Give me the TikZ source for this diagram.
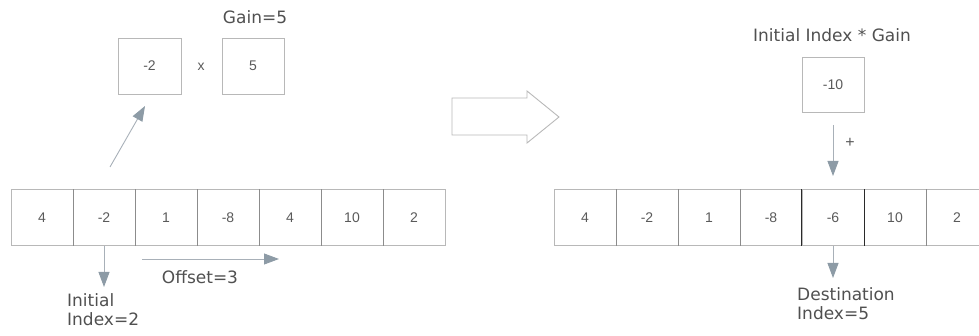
\documentclass[tikz,border=0pt]{standalone}
\usepackage{fontspec}
\setmainfont{Liberation Sans}
\newfontfamily\labelfont{DejaVu Sans}
\usetikzlibrary{arrows.meta}
\definecolor{boxline}{HTML}{B8B8B8}
\definecolor{divline}{HTML}{8C8C8C}
\definecolor{darkline}{HTML}{2A2A2A}
\definecolor{numtext}{HTML}{5A5A5A}
\definecolor{labtext}{HTML}{505050}
\definecolor{arrline}{HTML}{A8B0B8}
\definecolor{arrhead}{HTML}{8D9BA6}
\tikzset{
  cell/.style={draw=boxline, line width=0.9pt, minimum width=62pt, minimum height=56pt, inner sep=0pt, text=numtext, font=\fontsize{14}{16}\selectfont},
  numlabel/.style={text=numtext, font=\fontsize{14}{16}\selectfont, inner sep=0pt},
  biglabel/.style={text=labtext, font=\labelfont\fontsize{17}{20}\selectfont, inner sep=0pt},
  flow/.style={draw=arrline, line width=0.9pt, -{Triangle[length=15pt,width=11pt,fill=arrhead,color=arrhead]}},
  divider/.style={draw=divline, line width=0.9pt},
  mark6/.style={draw=darkline, line width=1pt}
}
\begin{document}
\begin{tikzpicture}[x=1pt,y=-1pt]
\useasboundingbox (0,0) rectangle (979,336);
% left array
\foreach \v [count=\i] in {4,-2,1,-8,4,10,2}{
  \node[cell] (L\i) at ({42+62*(\i-1)},217.5) {\v};
}
\foreach \i in {1,...,6}{
  \draw[divider] (L\i.north east) -- (L\i.south east);
}
% top boxes
\node[cell, minimum width=63pt] (A) at (149.5,66) {-2};
\node[numlabel] (times) at (201,67) {x};
\node[cell] (B) at (253,66) {5};
\node[biglabel] (gain) at (255,17) {Gain=5};
% arrow to multiplication
\coordinate (upstart) at (110,167);
\coordinate (upend) at (145,106);
\draw[flow] (upstart) -- (upend);
% initial index arrow
\coordinate (iniend) at (104,287);
\draw[flow] (L2.south) -- (iniend);
\node[biglabel, anchor=north west, align=left] (ini) at (67,293) {Initial\\[-1pt]Index=2};
% offset arrow
\coordinate (offstart) at (142,259);
\coordinate (offend) at (279,259);
\draw[flow] (offstart) -- (offend);
\node[biglabel] (off) at (200,277) {Offset=3};
% big hollow arrow
\draw[draw=boxline, line width=0.9pt] (452,98) -- (527,98) -- (527,91) -- (559,117) -- (527,143) -- (527,135) -- (452,135) -- cycle;
% right array
\foreach \v [count=\i] in {4,-2,1,-8,-6,10,2}{
  \node[cell] (R\i) at ({585+62*(\i-1)},217.5) {\v};
}
\foreach \i in {1,2,3,6}{
  \draw[divider] (R\i.north east) -- (R\i.south east);
}
\draw[mark6] (R5.north west) -- (R5.south west);
\draw[mark6] (R5.north east) -- (R5.south east);
% right top
\node[biglabel] (prod) at (832,35) {Initial Index * Gain};
\node[cell, minimum height=55pt] (C) at (833,84.5) {-10};
\coordinate (plusstart) at (833,125);
\coordinate (plusend) at (833,176);
\draw[flow] (plusstart) -- (plusend);
\node[numlabel, font=\fontsize{16}{18}\selectfont] (plus) at (850,143) {+};
\coordinate (destend) at (833,278);
\draw[flow] (R5.south) -- (destend);
\node[biglabel, anchor=north west, align=left] (dest) at (797,287) {Destination\\[-1pt]Index=5};
\end{tikzpicture}
\end{document}
